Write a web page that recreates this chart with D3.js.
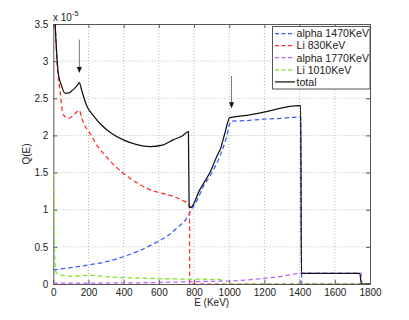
<!DOCTYPE html>
<html>
<head>
<meta charset="utf-8">
<script src="https://cdn.jsdelivr.net/npm/d3@7"></script>
<style>
  body { margin: 0; background: #fff; }
  text { font-family: "Liberation Sans", Arial, sans-serif; fill: #222; }
</style>
</head>
<body>
<div id="graph"></div>
<script>
// values in units of 1e-5, energies in KeV
const xTicks = [0, 200, 400, 600, 800, 1000, 1200, 1400, 1600, 1800]
const yTicks = [0, 0.5, 1, 1.5, 2, 2.5, 3, 3.5]

const alpha1470E = [0, 100, 200, 300, 388, 480, 577, 650, 710, 760, 780, 820, 852, 890, 928, 960, 985, 1009, 1100, 1200, 1300, 1406, 1412, 1800]
const alpha1470Q = [0.19, 0.22, 0.256, 0.30, 0.36, 0.44, 0.55, 0.65, 0.77, 0.89, 0.98, 1.14, 1.31, 1.45, 1.62, 1.8, 1.98, 2.19, 2.2, 2.22, 2.23, 2.25, 0, 0]

const li830E = [8, 15, 23, 30, 38, 48, 60, 85, 110, 135, 148, 160, 175, 190, 208, 250, 303, 350, 398, 470, 549, 620, 681, 730, 767, 774, 775, 1800]
const li830Q = [3.6, 3.3, 2.92, 2.75, 2.61, 2.38, 2.27, 2.23, 2.26, 2.32, 2.34, 2.25, 2.15, 2.09, 2.03, 1.86, 1.71, 1.59, 1.49, 1.37, 1.27, 1.22, 1.18, 1.13, 1.08, 1.06, 0, 0]

const alpha1770E = [0, 200, 400, 600, 757, 850, 1003, 1100, 1192, 1287, 1350, 1401, 1410, 1750, 1755, 1800]
const alpha1770Q = [0.01, 0.012, 0.015, 0.02, 0.03, 0.035, 0.04, 0.055, 0.077, 0.1, 0.125, 0.144, 0.145, 0.145, 0, 0]

const li1010E = [0, 3, 8, 15, 30, 60, 100, 150, 200, 250, 300, 400, 500, 600, 710, 800, 900, 950, 955, 1800]
const li1010Q = [1.5, 1.0, 0.4, 0.16, 0.13, 0.115, 0.105, 0.11, 0.115, 0.11, 0.1, 0.085, 0.078, 0.072, 0.067, 0.065, 0.063, 0.062, 0, 0]

const totalE = [8, 15, 28, 48, 66, 85, 110, 135, 148, 160, 175, 190, 210, 230, 265, 330, 398, 470, 549, 620, 681, 730, 768, 772, 780, 833, 890, 940, 947, 975, 1003, 1100, 1212, 1300, 1344, 1406, 1410, 1742, 1751, 1800]
const totalQ = [3.6, 3.28, 2.84, 2.66, 2.57, 2.57, 2.61, 2.67, 2.71, 2.62, 2.5, 2.4, 2.32, 2.26, 2.16, 2.03, 1.94, 1.88, 1.85, 1.87, 1.94, 1.99, 2.05, 1.04, 1.03, 1.27, 1.5, 1.77, 1.8, 2.03, 2.24, 2.27, 2.32, 2.37, 2.39, 2.4, 0.144, 0.144, 0, 0]

const arrowE = [148, 1013]
const arrowTop = [3.29, 2.8]
const arrowBottom = [2.84, 2.365]

const seriesNames = ['alpha 1470KeV', 'Li 830KeV', 'alpha 1770KeV', 'Li 1010KeV', 'total']
const seriesColors = ['#3a5cff', '#ff2a2a', '#b960ff', '#7be61e', '#111']

const series = [
    [alpha1470E, alpha1470Q],
    [li830E, li830Q],
    [alpha1770E, alpha1770Q],
    [li1010E, li1010Q],
    [totalE, totalQ]
].map((s, i) => ({
    name: seriesNames[i],
    color: seriesColors[i],
    dashed: i < 4,
    points: s[0].map((e, j) => ({ e: e, q: s[1][j] }))
}))

const width = 409
const height = 320
const padL = 53.3, padR = 370, padT = 24, padB = 284

const svg = d3.select('#graph')
    .append('svg')
    .attr('width', width)
    .attr('height', height)

const xScale = d3.scaleLinear().domain([0, 1800]).range([padL, padR])
const yScale = d3.scaleLinear().domain([0, 3.5]).range([padB, padT])

svg.append('clipPath').attr('id', 'clip')
    .append('rect')
    .attr('x', padL).attr('y', padT)
    .attr('width', padR - padL).attr('height', padB - padT)

// dotted grid
const grid = svg.append('g')
grid.selectAll('.gx')
    .data(xTicks.slice(1, -1))
    .enter().append('line')
    .attr('x1', d => xScale(d)).attr('x2', d => xScale(d))
    .attr('y1', padT).attr('y2', padB)
    .attr('stroke', '#bbb').attr('stroke-dasharray', '1,2')
grid.selectAll('.gy')
    .data(yTicks.slice(1, -1))
    .enter().append('line')
    .attr('y1', d => yScale(d)).attr('y2', d => yScale(d))
    .attr('x1', padL).attr('x2', padR)
    .attr('stroke', '#bbb').attr('stroke-dasharray', '1,2')

// axes, matlab style ticks inward on all sides
const xAxis = d3.axisBottom(xScale).tickValues(xTicks).tickSizeInner(-4).tickSizeOuter(0).tickPadding(5).tickFormat(d3.format('d'))
const yAxis = d3.axisLeft(yScale).tickValues(yTicks).tickSizeInner(-4).tickSizeOuter(0).tickPadding(5).tickFormat(d3.format(''))

const gx = svg.append('g').attr('transform', `translate(0,${padB})`).call(xAxis)
const gy = svg.append('g').attr('transform', `translate(${padL},0)`).call(yAxis)
const gx2 = svg.append('g').attr('transform', `translate(0,${padT})`)
    .call(d3.axisTop(xScale).tickValues(xTicks).tickSizeInner(-4).tickSizeOuter(0).tickFormat(''))
const gy2 = svg.append('g').attr('transform', `translate(${padR},0)`)
    .call(d3.axisRight(yScale).tickValues(yTicks).tickSizeInner(-4).tickSizeOuter(0).tickFormat(''))

;[gx, gy, gx2, gy2].forEach(g => {
    g.select('.domain').attr('stroke', '#555')
    g.selectAll('.tick line').attr('stroke', '#555')
    g.selectAll('.tick text').attr('font-size', 10).attr('fill', '#222')
        .attr('font-family', '"Liberation Sans", Arial, sans-serif')
})

// lines
const line = d3.line()
    .x(d => xScale(d.e))
    .y(d => yScale(d.q))
    .curve(d3.curveMonotoneX)

svg.append('g').attr('clip-path', 'url(#clip)')
    .selectAll('path')
    .data(series)
    .enter()
    .append('path')
    .attr('d', d => line(d.points))
    .attr('fill', 'none')
    .attr('stroke', d => d.color)
    .attr('stroke-width', 1.25)
    .attr('stroke-dasharray', d => d.dashed ? '4.5,3' : null)

// arrows
arrowE.forEach((e, i) => {
    const x = xScale(e)
    const y1 = yScale(arrowTop[i])
    const y2 = yScale(arrowBottom[i])
    svg.append('line')
        .attr('x1', x).attr('x2', x)
        .attr('y1', y1).attr('y2', y2 - 5)
        .attr('stroke', '#777').attr('stroke-width', 1)
    svg.append('path')
        .attr('d', `M${x - 2.5},${y2 - 6}L${x + 2.5},${y2 - 6}L${x},${y2}Z`)
        .attr('fill', '#111')
})

// legend
const legend = svg.append('g').attr('id', 'legend')
legend.append('rect')
    .attr('x', 272.5).attr('y', 26.5)
    .attr('width', 97.5).attr('height', 62.5)
    .attr('fill', '#fff').attr('stroke', '#555')
series.forEach((s, i) => {
    const y = 33.5 + i * 12.1
    legend.append('line')
        .attr('x1', 275).attr('x2', 295)
        .attr('y1', y).attr('y2', y)
        .attr('stroke', s.color)
        .attr('stroke-width', 1.25)
        .attr('stroke-dasharray', s.dashed ? '4,2.5' : null)
    legend.append('text')
        .attr('x', 296.5).attr('y', y + 3.8)
        .attr('font-size', 10.6)
        .text(s.name)
})

// exponent label
const expo = svg.append('text').attr('x', 53).attr('y', 21).attr('font-size', 10)
expo.append('tspan').text('x 10')
expo.append('tspan').attr('dy', -5).attr('font-size', 7.5).text('-5')

svg.append('text')
    .attr('x', (padL + padR) / 2).attr('y', 306)
    .attr('text-anchor', 'middle').attr('font-size', 10)
    .text('E (KeV)')

svg.append('text')
    .attr('transform', 'translate(30,154) rotate(-90)')
    .attr('text-anchor', 'middle').attr('font-size', 10)
    .text('Q(E)')
</script>
</body>
</html>
